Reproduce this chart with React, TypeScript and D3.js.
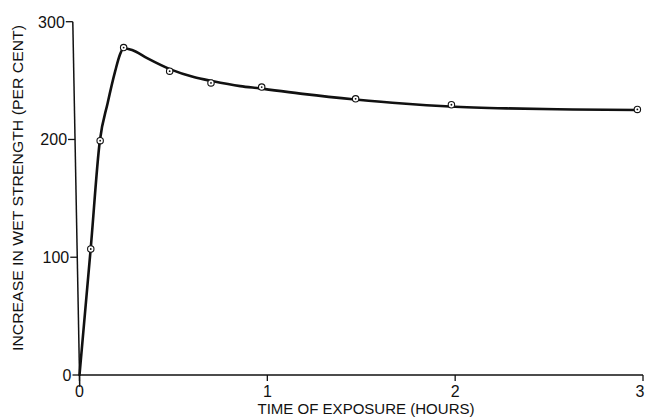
import React from "react";
import * as d3 from "d3";

// measured points (hours, % increase)
const hours = [0.06, 0.11, 0.235, 0.48, 0.7, 0.97, 1.47, 1.98, 2.97];
const increase = [107, 199, 278, 258, 248, 244.5, 234.5, 229.5, 225.5];
// smooth fitted curve as drawn in the figure
const curveHours = [0, 0.06, 0.108, 0.15, 0.19, 0.215, 0.235, 0.28, 0.36, 0.484, 0.608, 0.706, 0.856, 0.959, 1.2, 1.468, 1.72, 1.973, 2.275, 2.628, 2.973];
const curveValues = [0, 108, 198.5, 231, 258, 272, 277.5, 276, 269, 259.5, 253, 249.6, 245.3, 243.4, 238.5, 234, 230.5, 228, 226.4, 225.5, 225];
const xTicks = [0, 1, 2, 3];
const yTicks = [0, 100, 200, 300];
const xTitle = "TIME OF EXPOSURE (HOURS)";
const yTitle = "INCREASE IN WET STRENGTH (PER CENT)";

const W = 646;
const H = 418;

export default function App() {
  const x = d3.scaleLinear().domain([0, 3]).range([79.5, 643]);
  const y = d3.scaleLinear().domain([0, 300]).range([375, 21.7]);
  // hand-drawn y axis leans slightly left toward the top
  const axisX = d3.scaleLinear().domain([0, 300]).range([79.5, 72.8]);
  const pts: [number, number][] = hours.map((h, i) => [h, increase[i]]);
  const cpts: [number, number][] = curveHours.map((h, i) => [h, curveValues[i]]);
  const line = d3
    .line<[number, number]>()
    .x((d) => x(d[0]))
    .y((d) => y(d[1]))
    .curve(d3.curveMonotoneX);
  const font = "'Liberation Sans', Arial, sans-serif";
  const ink = "#111";
  return (
    <svg
      width={W}
      height={H}
      style={{ position: "absolute", left: 0, top: 0, background: "#fff" }}
    >
      {/* axes */}
      <line x1={x(0)} x2={x(3)} y1={y(0)} y2={y(0)} stroke={ink} strokeWidth={1.3} />
      <line
        x1={axisX(300)}
        x2={axisX(-10)}
        y1={y(300)}
        y2={y(-10)}
        stroke={ink}
        strokeWidth={1.5}
      />
      {yTicks.map((t) => (
        <g key={"y" + t}>
          <line x1={axisX(t) - 7} x2={axisX(t)} y1={y(t)} y2={y(t)} stroke={ink} strokeWidth={1.3} />
          <text
            x={axisX(t) - 8}
            y={y(t) + 6}
            textAnchor="end"
            fontFamily={font}
            fontSize={16}
            fill={ink}
          >
            {t}
          </text>
        </g>
      ))}
      {xTicks.map((t) => (
        <g key={"x" + t}>
          <line x1={x(t)} x2={x(t)} y1={y(0)} y2={y(0) + 6} stroke={ink} strokeWidth={1.3} />
          <text
            x={x(t) - (t === 3 ? 3 : 0)}
            y={y(0) + 22}
            textAnchor="middle"
            fontFamily={font}
            fontSize={16}
            fill={ink}
          >
            {t}
          </text>
        </g>
      ))}
      <text
        x={366}
        y={414}
        textAnchor="middle"
        fontFamily={font}
        fontSize={14}
        textLength={217}
        lengthAdjust="spacingAndGlyphs"
        fill={ink}
      >
        {xTitle}
      </text>
      <text
        transform={`translate(23,188) rotate(-90)`}
        textAnchor="middle"
        fontFamily={font}
        fontSize={14}
        textLength={326}
        lengthAdjust="spacingAndGlyphs"
        fill={ink}
      >
        {yTitle}
      </text>
      {/* fitted curve */}
      <path d={line(cpts) || ""} fill="none" stroke={ink} strokeWidth={2.6} strokeLinejoin="round" strokeLinecap="round" />
      {/* measured points */}
      {pts.map((d, i) => (
        <g key={"m" + i}>
          <circle cx={x(d[0])} cy={y(d[1])} r={3.2} fill="#fff" stroke={ink} strokeWidth={1.1} />
          <circle cx={x(d[0])} cy={y(d[1])} r={0.9} fill={ink} />
        </g>
      ))}
    </svg>
  );
}
